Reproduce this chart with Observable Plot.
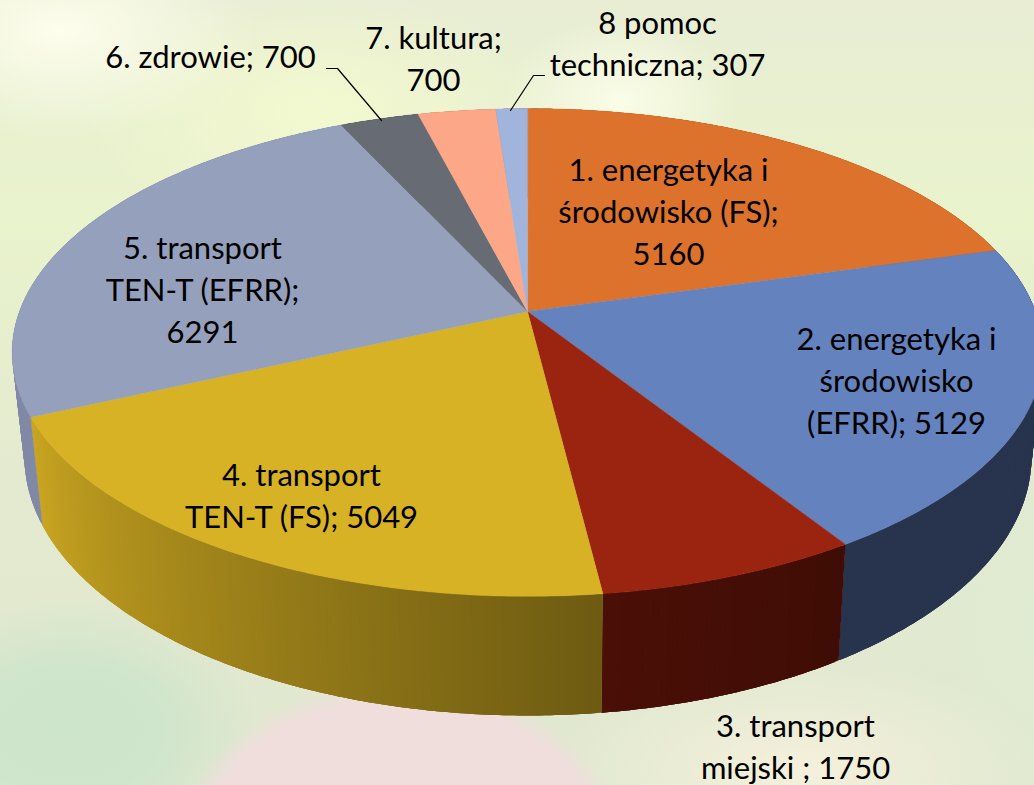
<!DOCTYPE html>
<html>
<head>
<meta charset="utf-8">
<script src="https://cdn.jsdelivr.net/npm/d3@7"></script>
<script src="https://cdn.jsdelivr.net/npm/@observablehq/plot@0.6"></script>
<style>
html,body{margin:0;padding:0;width:1034px;height:785px;overflow:hidden}
body{background:
 radial-gradient(ellipse 225px 170px at 400px 850px, #f0dedd 0%, #f0dedd 88%, rgba(240,222,221,0) 100%),
 radial-gradient(ellipse 250px 110px at 800px 770px, #f5f0dc 0%, rgba(245,240,220,0) 100%),
 radial-gradient(ellipse 120px 80px at 620px 100px, #fafde8 0%, rgba(250,253,232,0) 100%),
 radial-gradient(ellipse 200px 110px at 60px 30px, #fdfeec 0%, rgba(253,254,236,0) 100%),
 radial-gradient(ellipse 240px 120px at 320px 110px, #f3f9cf 0%, rgba(243,249,207,0) 100%),
 radial-gradient(ellipse 190px 130px at 70px 730px, #cde5cb 0%, rgba(205,229,203,.85) 50%, rgba(205,229,203,0) 100%),
 radial-gradient(ellipse 170px 280px at 1034px 620px, #dfebd2 0%, rgba(223,235,210,0) 100%),
 linear-gradient(180deg,#e8edd4 0%,#e9f3cc 28%,#e4eacf 60%,#e0e8d0 100%);}
svg{display:block;background:transparent!important}
</style>
</head>
<body>
<script>
// Chart content
const categories = ["1. energetyka i\nśrodowisko (FS);", "2. energetyka i\nśrodowisko\n(EFRR);", "3. transport\nmiejski ;", "4. transport\nTEN-T (FS);", "5. transport\nTEN-T (EFRR);", "6. zdrowie;", "7. kultura;", "8 pomoc\ntechniczna;"];
const labelledValues = [5160, 5129, 1750, 5049, 6291, 700, 700, 307];
const labelJoin = ["\n", " ", " ", " ", "\n", " ", "\n", " "];
// Sweep of each slice as it is actually drawn in the picture, in degrees
const drawnSweep = [74.4, 73.1, 25.4, 72.6, 89.5, 10.5, 10.3, 4.2];

// Colours
const topColors = ["#dd722d", "#6482be", "#9a2410", "#d6b224", "#95a0bc", "#676b74", "#fca888", "#a0b4dc"];
const wallFrom = ["#a85620", "#28344e", "#3f0d05", "#c9a521", "#8089a6", "#4b4e55", "#b87a62", "#7584a2"];
const wallTo   = ["#a85620", "#28344e", "#4a0f07", "#6e5b12", "#8089a6", "#4b4e55", "#b87a62", "#7584a2"];

// Perspective of the tilted disc
const cx = 527, cy = 311, R = 508, H = 237, k = 0.168;
const drop = {fx: 0.977, sx: 0.5, gy: 1.06, h: 102};
const rad = d => d * Math.PI / 180;
function project(a) {
  const u = Math.sin(rad(a)), v = Math.cos(rad(a)), s = 1 / (1 + k * v);
  return {X: R * u * s, Y: H * v * s};
}
const onTop = a => { const p = project(a); return [cx + p.X, cy - p.Y]; };
const onBottom = a => { const p = project(a); return [cx + drop.sx + drop.fx * p.X, cy - (drop.gy * p.Y - drop.h)]; };

// Slices
const slices = [];
let acc = 0;
drawnSweep.forEach((d, i) => { slices.push({i, a0: acc, a1: acc + d}); acc += d; });

const faceRows = [], wallRows = [];
for (const s of slices) {
  const n = Math.ceil(s.a1 - s.a0) * 2;
  const at = j => s.a0 + (s.a1 - s.a0) * Math.min(j, n) / n;
  const pts = [[cx, cy]];
  for (let j = 0; j <= n; j++) pts.push(onTop(at(j)));
  pts.forEach(([x, y]) => faceRows.push({x, y, id: s.i, fill: topColors[s.i]}));
  const shade = d3.interpolateRgb(wallFrom[s.i], wallTo[s.i]);
  // Painted so that each strip overlaps the next: the strips leave no seams.
  for (let j = 0; j < n; j++) {
    const t = j / (n - 1 || 1);
    const id = `w${s.i}-${j}`, fill = shade(s.i === 3 ? 1 - t : t);
    const arc = d3.range(j, j + 4).map(at);
    const front = arc.map(onTop), back = arc.map(onBottom).reverse();
    [...front, ...back].forEach(([x, y]) => wallRows.push({x, y, id, fill}));
  }
}

// Label placement on the page
const labelPlace = [[668, 209], [896, 378], [795, 744], [301, 493], [202, 287], [210, 54], [433, 56], [657, 41]];
const labels = categories.map((c, i) => ({
  text: c + labelJoin[i] + labelledValues[i],
  x: labelPlace[i][0], y: labelPlace[i][1]
}));
const leaders = [
  {id: 6, pts: [[326, 68], [337, 68], [381, 120]]},
  {id: 8, pts: [[544, 75], [533, 75], [510, 110]]}
].flatMap(l => l.pts.map(([x, y]) => ({x, y, id: l.id})));

const chart = Plot.plot({
  width: 1034, height: 785,
  margin: 0,
  x: {type: "identity", axis: null},
  y: {type: "identity", axis: null},
  style: {background: "transparent"},
  marks: [
    Plot.line(wallRows, {x: "x", y: "y", z: "id", fill: "fill", stroke: "none", curve: "linear-closed"}),
    Plot.line(faceRows, {x: "x", y: "y", z: "id", fill: "fill", stroke: "fill", strokeWidth: 0.4, curve: "linear-closed"}),
    Plot.line(leaders, {x: "x", y: "y", z: "id", stroke: "#000", strokeWidth: 1.2}),
    Plot.text(labels, {x: "x", y: "y", text: "text", fontSize: 31, lineHeight: 1.355, fontFamily: "Lato", fill: "#000", textAnchor: "middle"})
  ]
});
document.body.appendChild(chart);
</script>
</body>
</html>
